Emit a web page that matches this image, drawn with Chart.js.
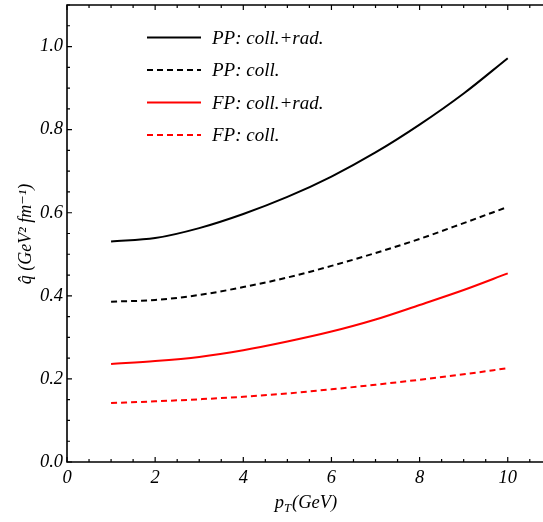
<!DOCTYPE html>
<html>
<head>
<meta charset="utf-8">
<script src="https://cdn.jsdelivr.net/npm/chart.js@4/dist/chart.umd.min.js"></script>
<style>
  html, body { margin: 0; padding: 0; background: #ffffff; }
  #wrap { width: 543px; height: 522px; }
</style>
</head>
<body>
<div id="wrap"><canvas id="chartQhat"></canvas></div>
<script>
// ===== data =====
const pT = [1, 2, 3, 4, 5, 6, 7, 8, 9, 10];
const ppCollRad = [0.531, 0.539, 0.563, 0.597, 0.638, 0.687, 0.745, 0.812, 0.887, 0.972];
const ppColl    = [0.386, 0.390, 0.402, 0.421, 0.444, 0.472, 0.503, 0.537, 0.575, 0.614];
const fpCollRad = [0.236, 0.243, 0.253, 0.269, 0.290, 0.314, 0.343, 0.378, 0.414, 0.454];
const fpColl    = [0.142, 0.146, 0.151, 0.157, 0.165, 0.175, 0.186, 0.198, 0.211, 0.226];

const xTicks = [0, 2, 4, 6, 8, 10];
const yTicks = [0.0, 0.2, 0.4, 0.6, 0.8, 1.0];
const legendLabels = ['PP: coll.+rad.', 'PP: coll.', 'FP: coll.+rad.', 'FP: coll.'];

const SERIF = "'Liberation Serif', 'DejaVu Serif', serif";
const RED = '#ff0000';
const DASH = [6, 4];

const toPoints = (ys) => pT.map((x, i) => ({ x: x, y: ys[i] }));

// frame, inward ticks, legend and axis titles
const framePlugin = {
  id: 'frame',
  afterDraw(chart) {
    const ctx = chart.ctx;
    const a = chart.chartArea;
    const xs = chart.scales.x, ys = chart.scales.y;
    ctx.save();
    ctx.strokeStyle = '#000';
    ctx.lineWidth = 1.6;
    ctx.beginPath();
    ctx.moveTo(a.right, a.top); ctx.lineTo(a.left, a.top);
    ctx.lineTo(a.left, a.bottom); ctx.lineTo(a.right, a.bottom);
    ctx.stroke();

    ctx.lineWidth = 1.2;
    ctx.beginPath();
    for (let v = 0; v <= 10.8 + 1e-9; v += 0.5) {
      const px = xs.getPixelForValue(v);
      const len = Math.abs(v % 2) < 1e-9 ? 5 : 3;
      ctx.moveTo(px, a.bottom); ctx.lineTo(px, a.bottom - len);
      ctx.moveTo(px, a.top); ctx.lineTo(px, a.top + len);
    }
    for (let v = 0; v <= 1.1 + 1e-9; v += 0.05) {
      const py = ys.getPixelForValue(v);
      const isMajor = Math.abs(Math.round(v * 100) % 20) === 0;
      const len = isMajor ? 5 : 3;
      ctx.moveTo(a.left, py); ctx.lineTo(a.left + len, py);
    }
    ctx.stroke();

    // legend
    ctx.font = 'italic 19px ' + SERIF;
    ctx.textBaseline = 'middle';
    ctx.fillStyle = '#000';
    chart.data.datasets.forEach((ds, i) => {
      const y = 37.5 + i * 32.5;
      ctx.strokeStyle = ds.borderColor;
      ctx.lineWidth = 2;
      ctx.setLineDash(ds.borderDash || []);
      ctx.beginPath();
      ctx.moveTo(147, y); ctx.lineTo(201, y);
      ctx.stroke();
      ctx.setLineDash([]);
      ctx.fillText(ds.label, 212, y + 1);
    });

    // x title: p_T(GeV)
    ctx.textBaseline = 'alphabetic';
    ctx.textAlign = 'left';
    ctx.font = 'italic 18.5px ' + SERIF;
    const w1 = ctx.measureText('p').width;
    ctx.font = 'italic 12.5px ' + SERIF;
    const w2 = ctx.measureText('T').width;
    ctx.font = 'italic 18.5px ' + SERIF;
    const w3 = ctx.measureText('(GeV)').width;
    const x0 = 306 - (w1 + w2 + w3 + 1) / 2;
    const base = 508;
    ctx.fillText('p', x0, base);
    ctx.font = 'italic 12.5px ' + SERIF;
    ctx.fillText('T', x0 + w1, base + 4);
    ctx.font = 'italic 18.5px ' + SERIF;
    ctx.fillText('(GeV)', x0 + w1 + w2 + 1, base);

    // y title
    ctx.translate(26, 234);
    ctx.rotate(-Math.PI / 2);
    ctx.textAlign = 'center';
    ctx.textBaseline = 'middle';
    ctx.font = 'italic 18px ' + SERIF;
    ctx.fillText('q\u0302 (GeV\u00b2 fm\u207b\u00b9)', 0, 0);
    ctx.restore();
  }
};

new Chart(document.getElementById('chartQhat'), {
  type: 'line',
  data: {
    datasets: [
      { label: legendLabels[0], data: toPoints(ppCollRad), borderColor: '#000000', borderWidth: 2 },
      { label: legendLabels[1], data: toPoints(ppColl), borderColor: '#000000', borderWidth: 2, borderDash: DASH },
      { label: legendLabels[2], data: toPoints(fpCollRad), borderColor: RED, borderWidth: 2 },
      { label: legendLabels[3], data: toPoints(fpColl), borderColor: RED, borderWidth: 2, borderDash: DASH },
    ]
  },
  options: {
    responsive: true,
    maintainAspectRatio: false,
    animation: false,
    layout: { padding: { top: 5, right: 0, left: 0, bottom: 0 } },
    elements: {
      point: { radius: 0 },
      line: { cubicInterpolationMode: 'monotone', fill: false }
    },
    plugins: {
      legend: { display: false },
      tooltip: { enabled: false }
    },
    scales: {
      x: {
        type: 'linear',
        min: 0,
        max: 10.8,
        afterBuildTicks: (s) => { s.ticks = xTicks.map(v => ({ value: v })); },
        afterFit: (s) => { s.height = 60; s.paddingLeft = 0; s.paddingRight = 0; },
        grid: { display: false, drawTicks: false },
        border: { display: false },
        ticks: {
          color: '#000',
          padding: 5,
          maxRotation: 0,
          font: { family: SERIF, size: 18.5, style: 'italic' },
          callback: (v) => String(v)
        }
      },
      y: {
        type: 'linear',
        min: 0,
        max: 1.1,
        afterBuildTicks: (s) => { s.ticks = yTicks.map(v => ({ value: v })); },
        afterFit: (s) => { s.width = 67; s.paddingTop = 0; s.paddingBottom = 0; },
        grid: { display: false, drawTicks: false },
        border: { display: false },
        ticks: {
          color: '#000',
          padding: 4,
          font: { family: SERIF, size: 18.5, style: 'italic' },
          callback: (v) => Number(v).toFixed(1)
        }
      }
    }
  },
  plugins: [framePlugin]
});
</script>
</body>
</html>
